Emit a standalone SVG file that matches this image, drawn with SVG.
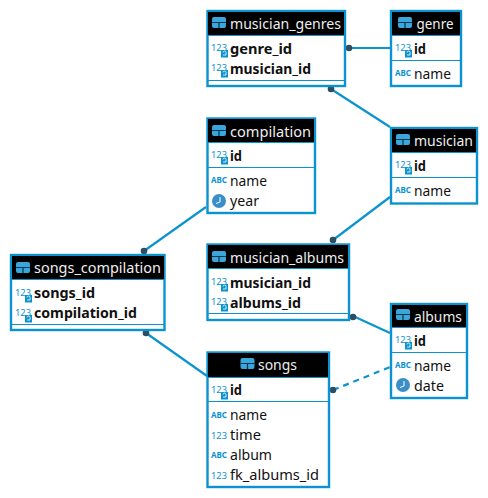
<svg xmlns="http://www.w3.org/2000/svg" width="488" height="498" viewBox="0 0 488 498">
<style>
text{font-family:"Noto Sans","Open Sans",sans-serif;font-size:15px;fill:#111}
.t{fill:#eee}
.b{font-weight:700}
.box{fill:#fff;stroke:#0b93cf;stroke-width:2.4}
.head{fill:#000}
.sep{stroke:#0b93cf;stroke-width:1;fill:none}
.c{stroke:#0b93cf;stroke-width:2.2;fill:none}
.d{stroke-dasharray:6 5}
.dot{fill:#2d4d63}
.ic{font-size:9.500px;fill:#0b93cf}
.abc{font-size:9.500px;font-weight:700;fill:#0b93cf}
</style>
<defs>
<g id="tbl"><rect x="0" y="0" width="14" height="11" rx="2" fill="#3aa6dc"/><path d="M0 5.500H14M7 5.500V11" stroke="#04384f" stroke-width="1.2"/></g>
<g id="key"><text class="ic" x="0" y="9" textLength="16" lengthAdjust="spacingAndGlyphs">123</text><rect x="10" y="8" width="7" height="7.500" fill="#0b93cf"/><path d="M12 10.500a1.500 1.500 0 1 1 3 0v2.500h-3" stroke="#fff" fill="none" stroke-width=".8"/></g>
<g id="abc"><text class="abc" x="0" y="8" textLength="16" lengthAdjust="spacingAndGlyphs">ABC</text></g>
<g id="num"><text class="ic" x="0" y="9" textLength="16" lengthAdjust="spacingAndGlyphs">123</text></g>
<g id="clk"><circle cx="7" cy="7" r="7" fill="#3b8fc9"/><path d="M8 3V8L4 9.500" stroke="#fff" fill="none"/></g>
</defs>
<g id="connectors">
<path class="c" d="M349 48H390"/>
<path class="c" d="M331 89L390 127"/>
<path class="c" d="M144 251L206 207"/>
<path class="c" d="M333 240L390 197"/>
<path class="c" d="M353 316L390 333"/>
<path class="c" d="M146 333L207 376"/>
<path class="c d" d="M333 390L390 367"/>
<circle class="dot" cx="349" cy="48" r="3.300"/>
<circle class="dot" cx="331" cy="89" r="3.300"/>
<circle class="dot" cx="144" cy="251" r="3.300"/>
<circle class="dot" cx="333" cy="240" r="3.300"/>
<circle class="dot" cx="353" cy="317" r="3.300"/>
<circle class="dot" cx="146" cy="333" r="3.300"/>
<circle class="dot" cx="333" cy="390" r="3.300"/>
</g>
<g id="musician_genres">
<rect class="box" x="207.500" y="11" width="137.500" height="75"/><rect class="head" x="208" y="12" width="136" height="23"/>
<use href="#tbl" x="212" y="17"/><text class="t" x="230" y="29" textLength="111" lengthAdjust="spacingAndGlyphs">musician_genres</text>
<path class="sep" d="M208 35.500H344M208 80.500H344"/>
<use href="#key" x="211" y="42"/><text class="b" x="230" y="53.500" textLength="62" lengthAdjust="spacingAndGlyphs">genre_id</text>
<use href="#key" x="211" y="62"/><text class="b" x="230" y="73.500" textLength="81" lengthAdjust="spacingAndGlyphs">musician_id</text>
</g>
<g id="genre">
<rect class="box" x="391" y="11" width="70" height="75"/><rect class="head" x="392" y="12" width="68" height="23"/>
<use href="#tbl" x="398" y="17"/><text class="t" x="416.500" y="29" textLength="37" lengthAdjust="spacingAndGlyphs">genre</text>
<path class="sep" d="M392 35.500H460M392 60.500H460"/>
<use href="#key" x="395" y="42"/><text class="b" x="414" y="53.500" textLength="12" lengthAdjust="spacingAndGlyphs">id</text>
<use href="#abc" x="395" y="68"/><text x="414" y="78.500" textLength="37" lengthAdjust="spacingAndGlyphs">name</text>
</g>
<g id="compilation">
<rect class="box" x="207.500" y="118.500" width="107.500" height="94.500"/><rect class="head" x="208" y="119" width="106" height="23"/>
<use href="#tbl" x="212" y="125"/><text class="t" x="230" y="136.500" textLength="81" lengthAdjust="spacingAndGlyphs">compilation</text>
<path class="sep" d="M208 142.500H314M208 167.500H314"/>
<use href="#key" x="211" y="149"/><text class="b" x="230" y="160.500" textLength="12" lengthAdjust="spacingAndGlyphs">id</text>
<use href="#abc" x="211" y="175"/><text x="230" y="185.500" textLength="37" lengthAdjust="spacingAndGlyphs">name</text>
<use href="#clk" x="212" y="194"/><text x="230" y="205.500" textLength="29" lengthAdjust="spacingAndGlyphs">year</text>
</g>
<g id="musician">
<rect class="box" x="391" y="128" width="86" height="75.500"/><rect class="head" x="392" y="129" width="84" height="23"/>
<use href="#tbl" x="396" y="134"/><text class="t" x="414" y="146" textLength="59" lengthAdjust="spacingAndGlyphs">musician</text>
<path class="sep" d="M392 152.500H476M392 177.500H476"/>
<use href="#key" x="395" y="159"/><text class="b" x="414" y="170.500" textLength="12" lengthAdjust="spacingAndGlyphs">id</text>
<use href="#abc" x="395" y="185"/><text x="414" y="195.500" textLength="37" lengthAdjust="spacingAndGlyphs">name</text>
</g>
<g id="songs_compilation">
<rect class="box" x="11" y="255" width="153.500" height="75"/><rect class="head" x="12" y="256" width="152" height="23"/>
<use href="#tbl" x="16" y="262"/><text class="t" x="34" y="273" textLength="127" lengthAdjust="spacingAndGlyphs">songs_compilation</text>
<path class="sep" d="M12 279.500H164M12 324.500H164"/>
<use href="#key" x="15" y="287"/><text class="b" x="34" y="297.500" textLength="61" lengthAdjust="spacingAndGlyphs">songs_id</text>
<use href="#key" x="15" y="307"/><text class="b" x="34" y="317.500" textLength="103" lengthAdjust="spacingAndGlyphs">compilation_id</text>
</g>
<g id="musician_albums">
<rect class="box" x="207.500" y="244.500" width="141.500" height="75.500"/><rect class="head" x="208" y="245" width="140" height="23"/>
<use href="#tbl" x="212" y="251"/><text class="t" x="230" y="263" textLength="114" lengthAdjust="spacingAndGlyphs">musician_albums</text>
<path class="sep" d="M208 268.500H348M208 313.500H348"/>
<use href="#key" x="211" y="276"/><text class="b" x="230" y="287.500" textLength="81" lengthAdjust="spacingAndGlyphs">musician_id</text>
<use href="#key" x="211" y="296"/><text class="b" x="230" y="307.500" textLength="71" lengthAdjust="spacingAndGlyphs">albums_id</text>
</g>
<g id="albums">
<rect class="box" x="391" y="304" width="76" height="94"/><rect class="head" x="392" y="305" width="74" height="22"/>
<use href="#tbl" x="396" y="309"/><text class="t" x="414" y="322" textLength="48" lengthAdjust="spacingAndGlyphs">albums</text>
<path class="sep" d="M392 327.500H466M392 352.500H466"/>
<use href="#key" x="395" y="334"/><text class="b" x="414" y="345.500" textLength="12" lengthAdjust="spacingAndGlyphs">id</text>
<use href="#abc" x="395" y="360"/><text x="414" y="371" textLength="37" lengthAdjust="spacingAndGlyphs">name</text>
<use href="#clk" x="396" y="378"/><text x="414" y="390.500" textLength="30" lengthAdjust="spacingAndGlyphs">date</text>
</g>
<g id="songs">
<rect class="box" x="207.500" y="352.500" width="121.500" height="134.500"/><rect class="head" x="208" y="353" width="120" height="24"/>
<use href="#tbl" x="240.500" y="358"/><text class="t" x="258" y="370" textLength="39" lengthAdjust="spacingAndGlyphs">songs</text>
<path class="sep" d="M208 401.500H328M208 377.500H328"/>
<use href="#key" x="211" y="384"/><text class="b" x="230" y="394.500" textLength="12" lengthAdjust="spacingAndGlyphs">id</text>
<use href="#abc" x="211" y="410"/><text x="230" y="420" textLength="37" lengthAdjust="spacingAndGlyphs">name</text>
<use href="#num" x="211" y="430"/><text x="230" y="440" textLength="31" lengthAdjust="spacingAndGlyphs">time</text>
<use href="#abc" x="211" y="450"/><text x="230" y="460" textLength="42" lengthAdjust="spacingAndGlyphs">album</text>
<use href="#num" x="211" y="470"/><text x="230" y="480" textLength="89" lengthAdjust="spacingAndGlyphs">fk_albums_id</text>
</g>
</svg>
